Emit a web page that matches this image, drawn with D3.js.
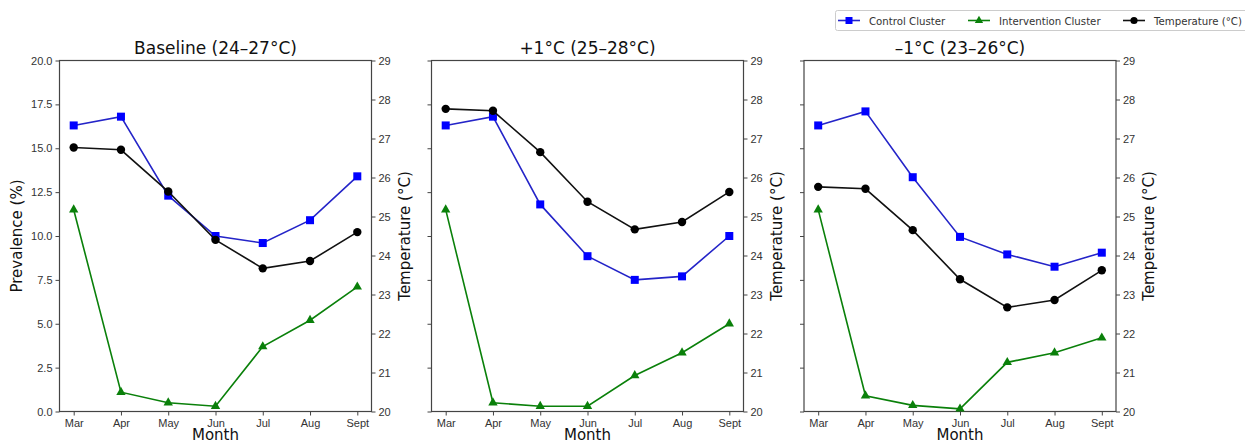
<!DOCTYPE html>
<html>
<head>
<meta charset="utf-8">
<script src="https://cdn.jsdelivr.net/npm/d3@7"></script>
<style>
  body { margin: 0; background: #fff; }
  svg { font-family: "DejaVu Sans", sans-serif; }
</style>
</head>
<body>
<div id="chart"></div>
<script>
// data
var months = ["Mar", "Apr", "May", "Jun", "Jul", "Aug", "Sept"];
var panelTitles = ["Baseline (24\u201327\u00b0C)", "+1\u00b0C (25\u201328\u00b0C)", "\u20131\u00b0C (23\u201326\u00b0C)"];

var controlBaseline = [16.3, 16.8, 12.3, 10.0, 9.6, 10.9, 13.4];
var controlPlus1 = [16.3, 16.8, 11.8, 8.85, 7.5, 7.7, 10.0];
var controlMinus1 = [16.3, 17.1, 13.35, 9.95, 8.95, 8.25, 9.05];

var interventionBaseline = [11.5, 1.1, 0.5, 0.3, 3.7, 5.2, 7.1];
var interventionPlus1 = [11.5, 0.5, 0.3, 0.3, 2.05, 3.35, 5.0];
var interventionMinus1 = [11.5, 0.9, 0.35, 0.15, 2.8, 3.35, 4.2];

var tempBaseline = [26.77, 26.71, 25.64, 24.4, 23.67, 23.86, 24.6];
var tempPlus1 = [27.76, 27.71, 26.65, 25.38, 24.67, 24.86, 25.63];
var tempMinus1 = [25.76, 25.71, 24.65, 23.39, 22.67, 22.86, 23.62];

var prevTicks = [0, 2.5, 5, 7.5, 10, 12.5, 15, 17.5, 20];
var tempTicks = [20, 21, 22, 23, 24, 25, 26, 27, 28, 29];

var panels = [
  { title: panelTitles[0], control: controlBaseline, intervention: interventionBaseline, temp: tempBaseline },
  { title: panelTitles[1], control: controlPlus1, intervention: interventionPlus1, temp: tempPlus1 },
  { title: panelTitles[2], control: controlMinus1, intervention: interventionMinus1, temp: tempMinus1 }
];

var W = 1245, H = 444;
var svg = d3.select("#chart").append("svg").attr("width", W).attr("height", H);

var panelLeft = [59.5, 431.5, 804];
var pw = 312, plotTop = 60.5, plotBottom = 411.5;

var blue = "#0000ff", blueLine = "#2424c8", green = "#0a800a", axisCol = "#444";

var y = d3.scaleLinear().domain([0, 20]).range([plotBottom, plotTop]);
var yT = d3.scaleLinear().domain([20, 29]).range([plotBottom, plotTop]);

panels.forEach(function (p, i) {
  var x0 = panelLeft[i];
  var x = d3.scalePoint().domain(months).range([x0 + 14.2, x0 + pw - 14.2]);
  var g = svg.append("g");

  // left axis (labels only on first panel)
  var yAxis = d3.axisLeft(y).tickValues(prevTicks).tickSize(4).tickPadding(3)
    .tickFormat(i === 0 ? d3.format(".1f") : "");
  g.append("g").attr("transform", "translate(" + x0 + ",0)").call(yAxis);

  var yAxisR = d3.axisRight(yT).tickValues(tempTicks).tickSize(4).tickPadding(3);
  g.append("g").attr("transform", "translate(" + (x0 + pw) + ",0)").call(yAxisR);

  var xAxis = d3.axisBottom(x).tickSize(4).tickPadding(4);
  g.append("g").attr("transform", "translate(0," + plotBottom + ")").call(xAxis);

  g.selectAll(".domain").remove();
  g.selectAll(".tick line").attr("stroke", axisCol).attr("stroke-width", 1);
  g.selectAll(".tick text").attr("fill", "#333").style("font-size", "11px");

  // frame
  g.append("rect").attr("x", x0).attr("y", plotTop).attr("width", pw).attr("height", plotBottom - plotTop)
    .attr("fill", "none").attr("stroke", axisCol).attr("stroke-width", 1.2);

  // title
  g.append("text").attr("x", x0 + pw / 2).attr("y", 54).attr("text-anchor", "middle")
    .style("font-size", "17px").attr("fill", "#111").text(p.title);

  g.append("text").attr("x", x0 + pw / 2).attr("y", 440).attr("text-anchor", "middle")
    .style("font-size", "15px").attr("fill", "#111").text("Month");

  g.append("text").attr("transform", "translate(" + (x0 + pw + 38) + "," + ((plotTop + plotBottom) / 2) + ") rotate(-90)")
    .attr("text-anchor", "middle").style("font-size", "15px").attr("fill", "#111").text("Temperature (\u00b0C)");

  if (i === 0) {
    g.append("text").attr("transform", "translate(22," + ((plotTop + plotBottom) / 2) + ") rotate(-90)")
      .attr("text-anchor", "middle").style("font-size", "15px").attr("fill", "#111").text("Prevalence (%)");
  }

  var line = d3.line().x(function (d, j) { return x(months[j]); });

  // control
  g.append("path").datum(p.control).attr("d", line.y(function (d) { return y(d); }))
    .attr("fill", "none").attr("stroke", blueLine).attr("stroke-width", 1.6);
  g.selectAll(".sq").data(p.control).enter().append("rect")
    .attr("x", function (d, j) { return x(months[j]) - 4; })
    .attr("y", function (d) { return y(d) - 4; })
    .attr("width", 8).attr("height", 8).attr("fill", blue);

  // intervention
  g.append("path").datum(p.intervention).attr("d", line.y(function (d) { return y(d); }))
    .attr("fill", "none").attr("stroke", green).attr("stroke-width", 1.6);
  g.selectAll(".tri").data(p.intervention).enter().append("path")
    .attr("d", d3.symbol().type(d3.symbolTriangle).size(38))
    .attr("transform", function (d, j) { return "translate(" + x(months[j]) + "," + y(d) + ")"; })
    .attr("fill", green);

  // temperature (twin axis)
  g.append("path").datum(p.temp).attr("d", line.y(function (d) { return yT(d); }))
    .attr("fill", "none").attr("stroke", "#111").attr("stroke-width", 1.6);
  g.selectAll(".dot").data(p.temp).enter().append("circle")
    .attr("cx", function (d, j) { return x(months[j]); })
    .attr("cy", function (d) { return yT(d); })
    .attr("r", 4.2).attr("fill", "#000");
});

// legend
var lg = svg.append("g");
lg.append("rect").attr("x", 835.5).attr("y", 10.5).attr("width", 420).attr("height", 20)
  .attr("rx", 2).attr("fill", "#fff").attr("stroke", "#ccc");
var legendItems = [
  { label: "Control Cluster", x: 838, color: blue, line: blueLine, shape: "sq" },
  { label: "Intervention Cluster", x: 968, color: green, line: green, shape: "tri" },
  { label: "Temperature (\u00b0C)", x: 1123, color: "#000", line: "#111", shape: "dot" }
];
legendItems.forEach(function (it) {
  var cy = 20.5;
  lg.append("line").attr("x1", it.x).attr("x2", it.x + 22).attr("y1", cy).attr("y2", cy)
    .attr("stroke", it.line).attr("stroke-width", 1.6);
  var cx = it.x + 11;
  if (it.shape === "sq") {
    lg.append("rect").attr("x", cx - 3.5).attr("y", cy - 3.5).attr("width", 7).attr("height", 7).attr("fill", it.color);
  } else if (it.shape === "tri") {
    lg.append("path").attr("d", d3.symbol().type(d3.symbolTriangle).size(30)())
      .attr("transform", "translate(" + cx + "," + cy + ")").attr("fill", it.color);
  } else {
    lg.append("circle").attr("cx", cx).attr("cy", cy).attr("r", 3.6).attr("fill", it.color);
  }
  lg.append("text").attr("x", it.x + 31).attr("y", cy + 4).style("font-size", "10.2px")
    .attr("fill", "#333").text(it.label);
});
</script>
</body>
</html>
